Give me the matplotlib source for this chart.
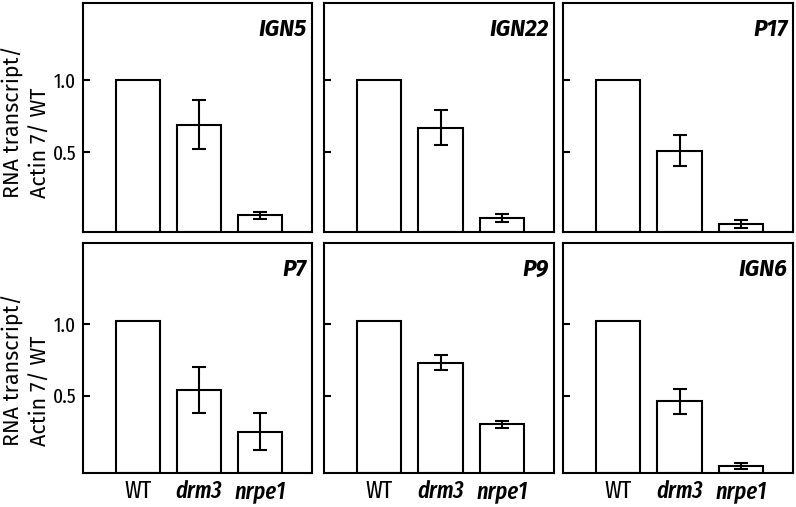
import matplotlib
matplotlib.use("Agg")
import matplotlib.pyplot as plt
import numpy as np

genotypes = ["WT", "drm3", "nrpe1"]
genes = ["IGN5", "IGN22", "P17", "P7", "P9", "IGN6"]

# relative transcript level (RNA transcript / Actin 7 / WT)
means = [
    [1.00, 0.69, 0.06],   # IGN5
    [1.00, 0.67, 0.04],   # IGN22
    [1.00, 0.51, 0.00],   # P17
    [1.02, 0.54, 0.25],   # P7
    [1.02, 0.73, 0.30],   # P9
    [1.02, 0.46, 0.01],   # IGN6
]
errors = [
    [0.00, 0.17, 0.027],
    [0.00, 0.12, 0.028],
    [0.00, 0.107, 0.03],
    [0.00, 0.163, 0.13],
    [0.00, 0.052, 0.024],
    [0.00, 0.087, 0.022],
]
ytick_vals = [0.5, 1.0]
ytick_labels = ["0.5", "1.0"]

narrow = ["Fira Sans Extra Condensed", "DejaVu Sans"]
sans = ["Fira Sans", "Open Sans", "DejaVu Sans"]
LW = 1.5

fig = plt.figure(figsize=(7.96, 5.07), dpi=100)

W, H = 796, 507
cols = [(83, 229), (324, 230), (563, 230)]
rows = [(3, 229), (243, 230)]
ylims = [(-0.055, 1.535), (-0.039, 1.565)]

x = np.arange(3)
for i, gene in enumerate(genes):
    r, c = divmod(i, 3)
    left, w = cols[c]
    top, h = rows[r]
    ax = fig.add_axes([left / W, (H - top - h) / H, w / W, h / H])
    y0, y1 = ylims[r]
    vals = np.array(means[i])
    ax.bar(x, vals - y0, bottom=y0, width=0.72, color="white",
           edgecolor="black", linewidth=LW, zorder=2)
    err = np.array(errors[i])
    for j in range(1, 3):
        ax.errorbar(x[j], vals[j], yerr=err[j], fmt="none", ecolor="black",
                    elinewidth=LW, capsize=5, capthick=LW, zorder=3)
    ax.set_xlim(-0.9, 2.85)
    ax.set_ylim(y0, y1)
    ax.set_yticks(ytick_vals)
    ax.tick_params(axis="y", direction="in", length=5, width=LW, pad=5)
    if c == 0:
        ax.set_yticklabels(ytick_labels, family=narrow, fontsize=15)
    else:
        ax.set_yticklabels([])
    ax.set_xticks(x)
    ax.tick_params(axis="x", length=0, pad=5)
    if r == 1:
        labs = ax.set_xticklabels(genotypes, family=narrow, fontsize=17.5)
        for lab in labs[1:]:
            lab.set_style("italic")
            lab.set_fontweight("medium")
    else:
        ax.set_xticklabels([])
    for sp in ax.spines.values():
        sp.set_linewidth(LW)
    ax.text(0.975, 0.935, gene, transform=ax.transAxes, ha="right", va="top",
            family=sans, fontsize=16.5, fontweight="bold", style="italic")

for yc in [122, 370]:
    fig.text(26 / W, 1 - yc / H, "RNA transcript/\nActin 7/ WT", rotation=90,
             ha="center", va="center", multialignment="left",
             family=sans, fontsize=15.5, linespacing=1.35)

fig.savefig("out.png", dpi=100)
